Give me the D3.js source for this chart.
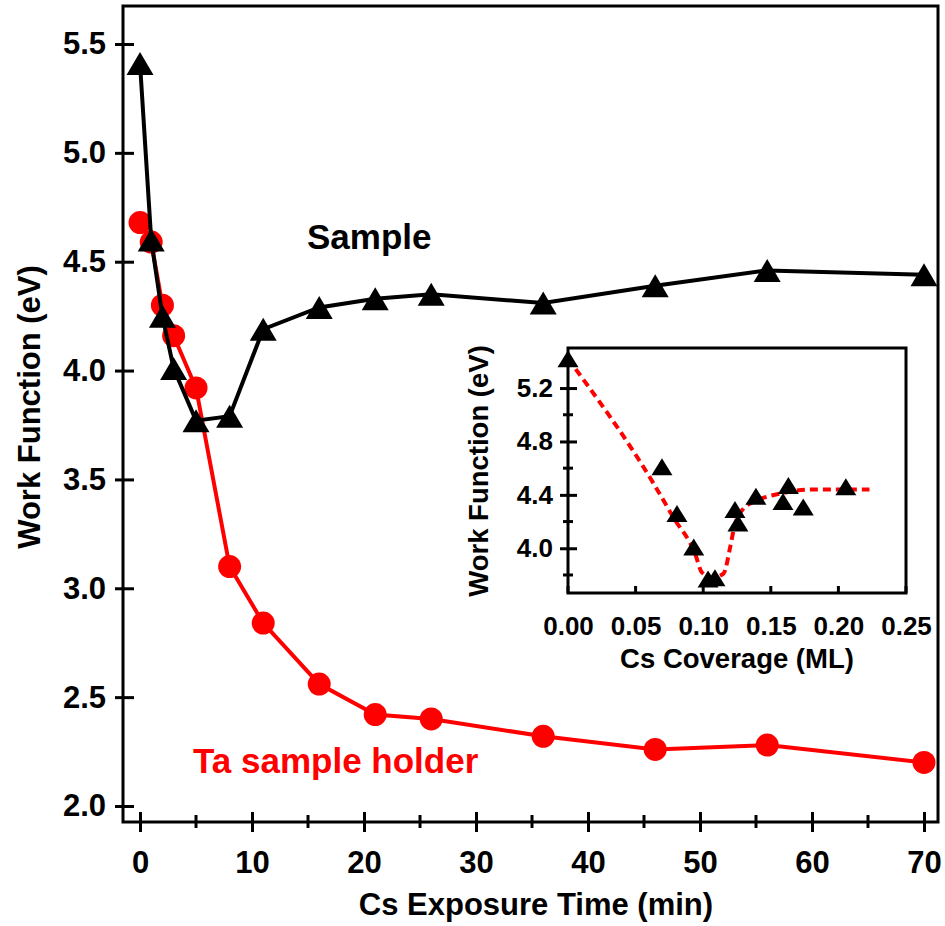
<html>
<head>
<script src="https://d3js.org/d3.v7.min.js"></script>
<style>
  body { margin: 0; background: #fff; }
  svg { font-family: "Liberation Sans", Arial, sans-serif; font-weight: bold; }
  .domain { display: none; }
</style>
</head>
<body>
<svg id="chart" width="945" height="926"></svg>
<script>
// main plot data
var times     = [0, 1, 2, 3, 5, 8, 11, 16, 21, 26, 36, 46, 56, 70];
var sampleWF  = [5.41, 4.60, 4.25, 4.01, 3.77, 3.79, 4.19, 4.29, 4.33, 4.35, 4.31, 4.39, 4.46, 4.44];
var holderWF  = [4.68, 4.59, 4.30, 4.16, 3.92, 3.10, 2.84, 2.56, 2.42, 2.40, 2.32, 2.26, 2.28, 2.20];
var xTicks    = [0, 10, 20, 30, 40, 50, 60, 70];
var xMinor    = [5, 15, 25, 35, 45, 55, 65];
var yTicks    = [2.0, 2.5, 3.0, 3.5, 4.0, 4.5, 5.0, 5.5];

// inset data
var coverage  = [0, 0.0695, 0.0806, 0.093, 0.1036, 0.1087, 0.1235, 0.1257, 0.139, 0.159, 0.163, 0.174, 0.2055];
var insetWF   = [5.42, 4.61, 4.26, 4.01, 3.77, 3.78, 4.29, 4.19, 4.39, 4.35, 4.47, 4.31, 4.46];
var fitX      = [0, 0.063, 0.078, 0.094, 0.099, 0.107, 0.115, 0.120, 0.123, 0.130, 0.138, 0.157, 0.179, 0.223];
var fitY      = [5.42, 4.49, 4.23, 3.96, 3.82, 3.78, 3.81, 4.01, 4.16, 4.30, 4.35, 4.41, 4.44, 4.44];
var insetXTicks = [0, 0.05, 0.10, 0.15, 0.20, 0.25];
var insetYTicks = [4.0, 4.4, 4.8, 5.2];
var insetYMinor = [3.8, 4.2, 4.6, 5.0];

var svg = d3.select("#chart");

// ---- main plot ----
var L = 123, R = 938, T = 6, B = 822;
var x = d3.scaleLinear().domain([-1.52, 71.25]).range([L, R]);
var y = d3.scaleLinear().domain([1.9265, 5.6745]).range([B, T]);

function tri(cx, cy, w, h) {
  return "M" + cx + "," + (cy - h / 2) + "L" + (cx + w / 2) + "," + (cy + h / 2) + "L" + (cx - w / 2) + "," + (cy + h / 2) + "Z";
}

// x axis
var gx = svg.append("g").attr("transform", "translate(0," + B + ")")
  .call(d3.axisBottom(x).tickValues(xTicks).tickFormat(d3.format("d")).tickSize(10).tickPadding(19));
gx.selectAll(".tick line").attr("y1", -10).attr("y2", 10).attr("stroke", "#000").attr("stroke-width", 3);
gx.selectAll(".tick text").attr("font-size", 31).attr("fill", "#000");

svg.append("g").selectAll("line").data(xMinor).enter().append("line")
  .attr("x1", function(d){ return x(d); }).attr("x2", function(d){ return x(d); })
  .attr("y1", B - 7).attr("y2", B + 6)
  .attr("stroke", "#000").attr("stroke-width", 3);

// y axis
var gy = svg.append("g").attr("transform", "translate(" + L + ",0)")
  .call(d3.axisLeft(y).tickValues(yTicks).tickFormat(d3.format(".1f")).tickSize(8).tickPadding(9));
gy.selectAll(".tick line").attr("x1", -8).attr("x2", 11).attr("stroke", "#000").attr("stroke-width", 3);
gy.selectAll(".tick text").attr("font-size", 31).attr("fill", "#000");

// frame
svg.append("rect").attr("x", L).attr("y", T).attr("width", R - L).attr("height", B - T)
  .attr("fill", "none").attr("stroke", "#000").attr("stroke-width", 3);

// axis titles
svg.append("text").attr("x", 536).attr("y", 915).attr("text-anchor", "middle")
  .attr("font-size", 31).text("Cs Exposure Time (min)");
svg.append("text").attr("transform", "translate(40,407) rotate(-90)").attr("text-anchor", "middle")
  .attr("font-size", 31).text("Work Function (eV)");

// Ta holder series
var lineMain = d3.line().x(function(d){ return x(d[0]); }).y(function(d){ return y(d[1]); });
var holder = d3.zip(times, holderWF);
var sample = d3.zip(times, sampleWF);

svg.append("path").datum(holder).attr("d", lineMain)
  .attr("fill", "none").attr("stroke", "#ff0000").attr("stroke-width", 4);
svg.append("g").selectAll("circle").data(holder).enter().append("circle")
  .attr("cx", function(d){ return x(d[0]); }).attr("cy", function(d){ return y(d[1]); })
  .attr("r", 11.5).attr("fill", "#ff0000");

// sample series
svg.append("path").datum(sample).attr("d", lineMain)
  .attr("fill", "none").attr("stroke", "#000").attr("stroke-width", 4);
svg.append("g").selectAll("path").data(sample).enter().append("path")
  .attr("d", function(d){ return tri(x(d[0]), y(d[1]), 27, 23); })
  .attr("fill", "#000");

svg.append("text").attr("x", 307).attr("y", 249).attr("font-size", 35).text("Sample");
svg.append("text").attr("x", 193).attr("y", 773).attr("font-size", 35).attr("fill", "#ff0000").text("Ta sample holder");

// ---- inset ----
var iL = 568, iR = 906, iT = 348, iB = 593;
var ix = d3.scaleLinear().domain([0, 0.25]).range([iL, iR]);
var iy = d3.scaleLinear().domain([3.665, 5.5]).range([iB, iT]);

svg.append("rect").attr("x", iL).attr("y", iT).attr("width", iR - iL).attr("height", iB - iT)
  .attr("fill", "#fff");

var ixAxis = svg.append("g").attr("transform", "translate(0," + iB + ")")
  .call(d3.axisBottom(ix).tickValues(insetXTicks).tickFormat(d3.format(".2f")).tickSize(0).tickPadding(24));
ixAxis.selectAll(".tick text").attr("font-size", 26).attr("fill", "#000");
svg.append("g").selectAll("line").data(insetXTicks).enter().append("line")
  .attr("x1", function(d){ return ix(d); }).attr("x2", function(d){ return ix(d); })
  .attr("y1", iB - 7).attr("y2", iB)
  .attr("stroke", "#000").attr("stroke-width", 3);

var iyAxis = svg.append("g").attr("transform", "translate(" + iL + ",0)")
  .call(d3.axisLeft(iy).tickValues(insetYTicks).tickFormat(d3.format(".1f")).tickSize(8).tickPadding(7));
iyAxis.selectAll(".tick line").attr("x1", -8).attr("x2", 9).attr("stroke", "#000").attr("stroke-width", 3);
iyAxis.selectAll(".tick text").attr("font-size", 26).attr("fill", "#000");
svg.append("g").selectAll("line").data(insetYMinor).enter().append("line")
  .attr("x1", iL - 5).attr("x2", iL + 5)
  .attr("y1", function(d){ return iy(d); }).attr("y2", function(d){ return iy(d); })
  .attr("stroke", "#000").attr("stroke-width", 3);

svg.append("rect").attr("x", iL).attr("y", iT).attr("width", iR - iL).attr("height", iB - iT)
  .attr("fill", "none").attr("stroke", "#000").attr("stroke-width", 3);

svg.append("text").attr("x", 737).attr("y", 668).attr("text-anchor", "middle")
  .attr("font-size", 27.5).text("Cs Coverage (ML)");
svg.append("text").attr("transform", "translate(488,471) rotate(-90)").attr("text-anchor", "middle")
  .attr("font-size", 27.5).text("Work Function (eV)");

var fitLine = d3.line().curve(d3.curveMonotoneX)
  .x(function(d){ return ix(d[0]); }).y(function(d){ return iy(d[1]); });
svg.append("path").datum(d3.zip(fitX, fitY)).attr("d", fitLine)
  .attr("fill", "none").attr("stroke", "#ff0000").attr("stroke-width", 4)
  .attr("stroke-dasharray", "8,5");

svg.append("g").selectAll("path").data(d3.zip(coverage, insetWF)).enter().append("path")
  .attr("d", function(d){ return tri(ix(d[0]), iy(d[1]), 21, 17); })
  .attr("fill", "#000");
</script>
</body>
</html>
